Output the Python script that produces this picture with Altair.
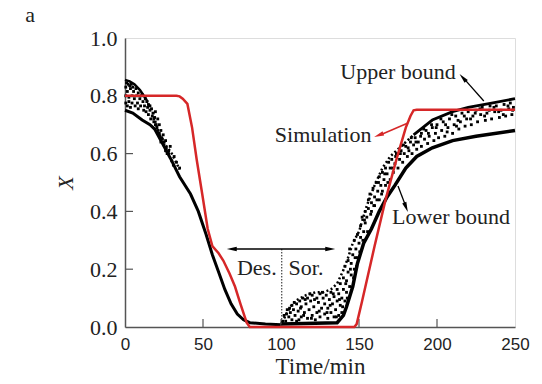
import altair as alt
import pandas as pd

# ---------------- data ----------------
sim_t = [0, 33, 35, 37, 40, 43, 46, 49.5, 53, 56, 60, 63, 67, 70.5, 74, 78, 80, 147, 148.5, 152, 160, 167, 174, 180, 183, 185, 187, 250]
sim_x = [0.80, 0.80, 0.798, 0.79, 0.772, 0.69, 0.578, 0.46, 0.34, 0.28, 0.255, 0.23, 0.185, 0.14, 0.08, 0.015, 0.0, 0.0, 0.01, 0.09, 0.28, 0.44, 0.58, 0.69, 0.73, 0.75, 0.752, 0.752]

des_main_t = [0, 5, 11, 16, 19, 21, 25, 29, 35, 42, 47, 52, 56, 60, 64, 68, 72, 76, 80, 90, 100]
des_main_x = [0.75, 0.74, 0.716, 0.70, 0.685, 0.665, 0.625, 0.585, 0.52, 0.46, 0.40, 0.32, 0.25, 0.19, 0.13, 0.08, 0.045, 0.025, 0.015, 0.01, 0.008]

des_upper_t = [0, 3, 6, 9.6, 12, 14]
des_upper_x = [0.855, 0.85, 0.84, 0.82, 0.80, 0.785]

des_upper2_t = [14, 18, 20.5, 22.4, 26, 30, 35]
des_upper2_x = [0.785, 0.74, 0.69, 0.66, 0.63, 0.60, 0.545]

sor_lower_t = [100, 136, 140, 142, 146, 149, 153, 158, 163, 168, 173, 180, 187, 197, 210, 225, 250]
sor_lower_x = [0.01, 0.015, 0.04, 0.07, 0.14, 0.22, 0.29, 0.34, 0.40, 0.45, 0.49, 0.55, 0.59, 0.62, 0.645, 0.66, 0.68]

sor_upper_t = [185, 197, 210, 220, 235, 250]
sor_upper_x = [0.665, 0.716, 0.745, 0.76, 0.775, 0.79]

sor_upper2_t = [102, 106, 110, 116, 122, 127, 132, 136, 140, 143, 146, 150, 155, 160, 165, 170, 175, 180, 185]
sor_upper2_x = [0.03, 0.07, 0.093, 0.11, 0.12, 0.12, 0.13, 0.15, 0.197, 0.24, 0.29, 0.33, 0.42, 0.49, 0.55, 0.59, 0.615, 0.64, 0.665]

des_dot_t = [14, 16, 18, 18.5, 19.5, 20.5, 22.4, 23.5, 25, 26.5, 28,
             0.5, 0.5, 0.5, 1.5, 1.5, 2.5, 2.5, 3.5, 3.5, 4.5, 4.5, 5.5, 6, 6.5, 7.5, 8, 8.5, 9.5, 10, 10.5,
             11.5, 12, 12.5, 13.5, 14.5, 15, 16, 16.5, 17.5, 18.5, 19, 20, 21, 22, 23, 24, 25, 26, 27, 28, 30, 31,
             1, 2, 3, 4, 5, 7, 8.5, 11, 13, 15, 17, 19.5, 21, 22, 23, 24.5, 26, 29, 31.5, 33, 35]
des_dot_x = [0.78, 0.765, 0.74, 0.72, 0.70, 0.69, 0.66, 0.655, 0.64, 0.62, 0.61,
             0.83, 0.80, 0.775, 0.815, 0.765, 0.795, 0.78, 0.825, 0.76, 0.80, 0.775, 0.815, 0.79, 0.765, 0.80, 0.775, 0.755, 0.79, 0.765, 0.80,
             0.78, 0.75, 0.765, 0.745, 0.76, 0.735, 0.75, 0.72, 0.73, 0.71, 0.725, 0.70, 0.68, 0.67, 0.64, 0.65, 0.63, 0.61, 0.60, 0.60, 0.575, 0.56,
             0.845, 0.84, 0.835, 0.84, 0.83, 0.825, 0.81, 0.805, 0.79, 0.77, 0.755, 0.745, 0.72, 0.70, 0.68, 0.665, 0.645, 0.625, 0.59, 0.57, 0.55]

sor_dot_t = [101, 102, 103, 104, 105, 106, 107, 107, 108, 109, 110, 110, 111, 112, 113, 113, 114, 115, 116, 117,
             117, 118, 119, 120, 120, 121, 122, 123, 123, 124, 125, 125, 126, 127, 128, 128, 129, 130, 130, 131,
             132, 132, 133, 134, 134, 135, 136, 136, 137, 137, 138, 138, 139, 139, 140, 140, 141, 141, 142, 142,
             143, 143, 144, 144, 145, 145, 146, 147, 147, 148, 149, 149, 150, 151, 151, 152, 153, 154, 154, 155,
             156, 156, 157, 158, 158, 159, 160, 160, 161, 162, 163, 163, 164, 165, 165, 166, 167, 167, 168, 169,
             170, 170, 171, 172, 173, 174, 175, 176, 177, 178, 179, 180, 181, 182, 183, 184, 185, 186, 187, 188,
             190, 190, 192, 193, 194, 195, 197, 198, 199, 200, 201, 203, 204, 205, 207, 208, 210, 211, 212, 214,
             215, 216, 218, 219, 220, 222, 223, 225, 226, 228, 229, 231, 232, 234, 235, 237, 238, 240, 241, 243,
             244, 246, 247, 248, 249,
             100.5, 103.5, 105.5, 108.5, 111.5, 112.5, 114.5, 115.5, 118.5, 119.5, 121.5, 124.5, 126.5, 129.5,
             131.5, 133.5, 135.5, 137.5, 139.5, 141.5, 142.5, 144.5, 146.5, 147.5, 148.5, 150.5, 152.5, 153.5,
             155.5, 157.5, 159.5, 161.5, 162.5, 164.5, 166.5, 168.5, 171.5, 173.5, 176.5, 178.5, 181.5, 183.5,
             186.5, 189.5, 191.5, 194.5, 196.5, 199.5, 202.5, 205.5, 206.5, 209.5, 212.5, 213.5, 217.5, 221.5,
             224.5, 227.5, 230.5, 233.5, 236.5, 239.5, 242.5, 245.5, 248.5]
sor_dot_x = [0.02, 0.04, 0.02, 0.06, 0.035, 0.05, 0.025, 0.075, 0.06, 0.04, 0.08, 0.02, 0.055, 0.09, 0.035, 0.07, 0.10, 0.05, 0.08, 0.03,
             0.10, 0.06, 0.09, 0.04, 0.11, 0.07, 0.025, 0.10, 0.05, 0.085, 0.035, 0.115, 0.065, 0.10, 0.045, 0.08, 0.11, 0.03, 0.065, 0.095,
             0.05, 0.12, 0.08, 0.035, 0.105, 0.06, 0.09, 0.13, 0.04, 0.115, 0.075, 0.15, 0.10, 0.05, 0.13, 0.17, 0.09, 0.21, 0.12, 0.16,
             0.19, 0.23, 0.14, 0.27, 0.18, 0.22, 0.25, 0.20, 0.30, 0.27, 0.24, 0.32, 0.29, 0.35, 0.31, 0.38, 0.33, 0.40, 0.36, 0.38,
             0.44, 0.41, 0.46, 0.40, 0.43, 0.48, 0.45, 0.42, 0.50, 0.47, 0.52, 0.44, 0.49, 0.535, 0.47, 0.51, 0.55, 0.49, 0.53, 0.57,
             0.51, 0.55, 0.58, 0.535, 0.565, 0.60, 0.55, 0.58, 0.61, 0.57, 0.60, 0.625, 0.59, 0.61, 0.64, 0.60, 0.63, 0.655, 0.615, 0.64,
             0.67, 0.625, 0.65, 0.68, 0.635, 0.66, 0.69, 0.645, 0.67, 0.70, 0.655, 0.68, 0.71, 0.66, 0.69, 0.72, 0.67, 0.70, 0.73, 0.685,
             0.71, 0.74, 0.695, 0.72, 0.745, 0.70, 0.73, 0.75, 0.71, 0.735, 0.76, 0.715, 0.74, 0.765, 0.72, 0.745, 0.765, 0.725, 0.75, 0.77,
             0.73, 0.755, 0.775, 0.735, 0.76,
             0.012, 0.045, 0.065, 0.085, 0.025, 0.065, 0.04, 0.095, 0.115, 0.03, 0.095, 0.055, 0.12, 0.05,
             0.075, 0.115, 0.035, 0.095, 0.07, 0.15, 0.10, 0.20, 0.17, 0.24, 0.21, 0.26, 0.30, 0.37,
             0.33, 0.39, 0.42, 0.44, 0.50, 0.46, 0.53, 0.50, 0.55, 0.59, 0.60, 0.63, 0.62, 0.655,
             0.64, 0.66, 0.685, 0.67, 0.70, 0.69, 0.72, 0.70, 0.675, 0.735, 0.695, 0.715, 0.73, 0.72,
             0.74, 0.755, 0.73, 0.75, 0.76, 0.745, 0.735, 0.765, 0.75]

x_ticks = [0, 50, 100, 150, 200, 250]
y_ticks = [0.0, 0.2, 0.4, 0.6, 0.8, 1.0]

W, H = 390, 289
SERIF = "Liberation Serif"
SANS = "Liberation Sans"

xs = alt.Scale(domain=[0, 250], nice=False, zero=False)
ys = alt.Scale(domain=[0, 1.0], nice=False)

xenc = alt.X("t:Q", scale=xs, axis=alt.Axis(values=x_ticks, ticks=False, grid=False, labelFont=SANS,
             labelFontSize=17, labelColor="#222", labelPadding=9, title="Time/min", titleFont=SERIF,
             titleFontSize=23, titleFontWeight="normal", titleColor="#222", titlePadding=3,
             domainColor="#555", domainWidth=1.5, labelFlush=False))
yenc = alt.Y("x:Q", scale=ys, axis=alt.Axis(values=y_ticks, format=".1f", ticks=False, grid=False,
             labelFont=SERIF, labelFontSize=22, labelColor="#222", labelPadding=8, title="X",
             titleFont=SERIF, titleFontStyle="italic", titleFontSize=22, titleFontWeight="normal",
             titleColor="#222", titlePadding=12, domainColor="#555", domainWidth=1.5))

def df(t, x):
    return pd.DataFrame({"t": t, "x": x})

base_x = alt.X("t:Q", scale=xs)
base_y = alt.Y("x:Q", scale=ys)

des_dots = alt.Chart(df(des_dot_t, des_dot_x)).mark_square(size=8, color="black", opacity=1).encode(x=xenc, y=yenc)
sor_dots = alt.Chart(df(sor_dot_t, sor_dot_x)).mark_square(size=8, color="black", opacity=1).encode(x=base_x, y=base_y)
des_main = alt.Chart(df(des_main_t, des_main_x)).mark_line(color="black", strokeWidth=3).encode(x=base_x, y=base_y)
des_up = alt.Chart(df(des_upper_t, des_upper_x)).mark_line(color="black", strokeWidth=2.5).encode(x=base_x, y=base_y)
des_up2 = alt.Chart(df(des_upper2_t, des_upper2_x)).mark_line(color="black", strokeWidth=2.5, strokeDash=[2, 2.5]).encode(x=base_x, y=base_y)
sor_low = alt.Chart(df(sor_lower_t, sor_lower_x)).mark_line(color="black", strokeWidth=3.5).encode(x=base_x, y=base_y)
sor_up = alt.Chart(df(sor_upper_t, sor_upper_x)).mark_line(color="black", strokeWidth=2.8).encode(x=base_x, y=base_y)
sor_up2 = alt.Chart(df(sor_upper2_t, sor_upper2_x)).mark_line(color="black", strokeWidth=2.5, strokeDash=[2, 2.5]).encode(x=base_x, y=base_y)
sim = alt.Chart(df(sim_t, sim_x)).mark_line(color="#d62728", strokeWidth=2.5).encode(x=base_x, y=base_y)

# inward ticks
ytick = alt.Chart(pd.DataFrame({"x": y_ticks[1:-1]})).mark_rule(color="#555", strokeWidth=1.2).encode(
    y=base_y, x=alt.value(0), x2=alt.value(8))
xtick = alt.Chart(pd.DataFrame({"t": x_ticks[1:-1]})).mark_rule(color="#555", strokeWidth=1.2).encode(
    x=base_x, y=alt.value(H), y2=alt.value(H - 8))

# annotations
ann_text = pd.DataFrame({
    "t": [175, 127, 209, 84.5, 116],
    "x": [0.882, 0.664, 0.379, 0.204, 0.204],
    "label": ["Upper bound", "Simulation", "Lower bound", "Des.", "Sor."],
})
texts = alt.Chart(ann_text).mark_text(font=SERIF, fontSize=22, color="#222", baseline="middle", align="center").encode(
    x=base_x, y=base_y, text="label:N")

arrow_lines = pd.DataFrame({
    "t": [230, 218, 181.4, 165, 175, 179.5],
    "x": [0.782, 0.855, 0.706, 0.668, 0.488, 0.425],
    "g": ["u", "u", "s", "s", "l", "l"],
})
black_arrows = alt.Chart(arrow_lines[arrow_lines.g != "s"]).mark_line(color="black", strokeWidth=1.3).encode(
    x=base_x, y=base_y, detail="g:N")
red_arrow = alt.Chart(arrow_lines[arrow_lines.g == "s"]).mark_line(color="#d62728", strokeWidth=1.5).encode(
    x=base_x, y=base_y)

HEAD = "M0,-1L0.42,0.9L-0.42,0.9Z"
heads = pd.DataFrame({
    "t": [216.7, 180.1, 68.6, 131.4],
    "x": [0.862, 0.415, 0.27, 0.27],
    "a": [318, 159, 270, 90],
})
black_heads = alt.Chart(heads).mark_point(shape=HEAD, filled=True, color="black", size=110, opacity=1).encode(
    x=base_x, y=base_y, angle=alt.Angle("a:Q", scale=None))
red_head = alt.Chart(pd.DataFrame({"t": [162.8], "x": [0.664], "a": [248]})).mark_point(
    shape=HEAD, filled=True, color="#d62728", size=110, opacity=1).encode(
    x=base_x, y=base_y, angle=alt.Angle("a:Q", scale=None))

dsarrow = alt.Chart(pd.DataFrame({"t": [70.5], "t2": [129.5], "x": [0.27]})).mark_rule(
    color="black", strokeWidth=1.5).encode(x=base_x, x2="t2:Q", y=base_y)
divider = alt.Chart(pd.DataFrame({"t": [100.5], "x": [0.27], "x2": [0.0]})).mark_rule(
    color="black", strokeWidth=0.9, strokeDash=[1.5, 1.5]).encode(x=base_x, y=base_y, y2="x2:Q")

panel_label = alt.Chart(pd.DataFrame({"s": ["a"]})).mark_text(
    font=SERIF, fontSize=22, color="#222", align="center", baseline="middle").encode(
    text="s:N", x=alt.value(-95), y=alt.value(-23))

chart = alt.layer(
    des_dots, sor_dots, des_main, des_up, des_up2, sor_low, sor_up, sor_up2, ytick, xtick, divider, dsarrow,
    black_arrows, black_heads, sim, red_arrow, red_head, texts, panel_label
).properties(
    width=W, height=H,
    autosize=alt.AutoSizeParams(type="none"),
    padding={"left": 125, "top": 38, "right": 27, "bottom": 57},
).configure_view(stroke="#555", strokeWidth=1.5).configure(background="white")

chart.save("out.html", embed_options={"renderer": "svg", "actions": False})
